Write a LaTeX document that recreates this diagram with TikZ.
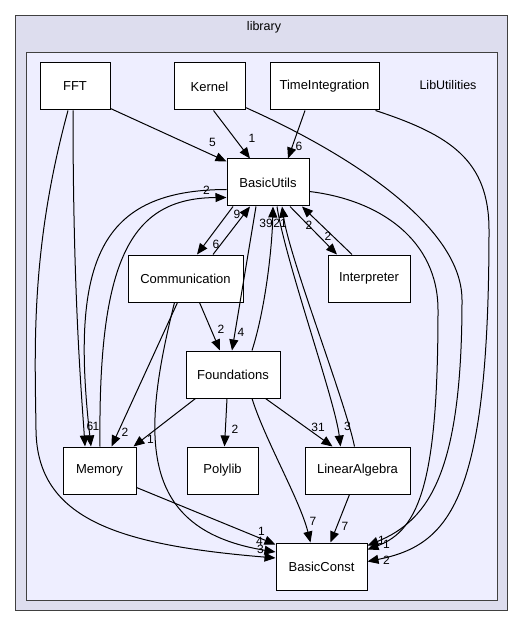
\documentclass[tikz,border=0pt]{standalone}
\usepackage{fontspec}
\setmainfont{Liberation Sans}
\usetikzlibrary{arrows.meta}
\definecolor{clusterbg}{HTML}{DDDDEE}
\definecolor{innerbg}{HTML}{EEEEFF}
\definecolor{framegray}{HTML}{404040}

\begin{document}
\begin{tikzpicture}[x=1pt, y=-1pt,
    dirbox/.style={draw, fill=white, line width=1pt, minimum height=47pt, inner sep=0pt, font=\fontsize{13}{15}\selectfont},
    cluster/.style={fill=#1, draw=framegray, line width=1pt},
    dep/.style={line width=1pt, -{Triangle[length=11pt,width=9pt]}},
    lbl/.style={font=\fontsize{12}{14}\selectfont, inner sep=0pt},
    title/.style={font=\fontsize{12.5}{15}\selectfont, inner sep=0pt}]
    \useasboundingbox (0,0) rectangle (528,628);

    % directory frames
    \filldraw[cluster=clusterbg] (15.5,15.5) rectangle (507,610);
    \node[title] (library) at (264,27) {library};
    \filldraw[cluster=innerbg] (26.5,52.5) rectangle (497,600);
    \node[title] (libutilities) at (448,85) {LibUtilities};

    % directories
    \node[dirbox, minimum width=70pt] (FFT) at (75,86.5) {FFT};
    \node[dirbox, minimum width=71pt] (Kernel) at (209.5,86.5) {Kernel};
    \node[dirbox, minimum width=109pt] (TimeIntegration) at (324.5,86.5) {TimeIntegration};
    \node[dirbox, minimum width=82pt] (BasicUtils) at (268,182.5) {BasicUtils};
    \node[dirbox, minimum width=115pt] (Communication) at (185.5,278.5) {Communication};
    \node[dirbox, minimum width=82pt] (Interpreter) at (369,278.5) {Interpreter};
    \node[dirbox, minimum width=94pt] (Foundations) at (233,374.5) {Foundations};
    \node[dirbox, minimum width=73pt] (Memory) at (99.5,470.5) {Memory};
    \node[dirbox, minimum width=71pt] (Polylib) at (222.5,470.5) {Polylib};
    \node[dirbox, minimum width=105pt] (LinearAlgebra) at (357.5,470.5) {LinearAlgebra};
    \node[dirbox, minimum width=91pt] (BasicConst) at (321.5,566.5) {BasicConst};

    % FFT
    \draw[dep] ([yshift=2]FFT.south east) -- ([yshift=-3]BasicUtils.north west) node[lbl, xshift=-14, yshift=19] {5};
    \draw[dep] ([xshift=-2]FFT.south) .. controls (73,300) and (82,400) .. ([xshift=-14.5]Memory.north) node[lbl, xshift=11, yshift=20] {1};
    \draw[dep] ([xshift=-7]FFT.south) .. controls (30,250) and (35,350) .. (36,430) .. controls (37,520) and (120,545) .. ([yshift=8.5]BasicConst.west) node[lbl, xshift=-15, yshift=9] {3};

    % Kernel and TimeIntegration
    \draw[dep] ([xshift=4]Kernel.south) -- ([xshift=-18]BasicUtils.north) node[lbl, xshift=2, yshift=20] {1};
    \draw[dep] ([yshift=3]Kernel.south east) .. controls (330,145) and (462,220) .. (462,300) .. controls (462,470) and (430,520) .. ([yshift=21]BasicConst.east) node[lbl, xshift=14, yshift=5] {1};
    \draw[dep] ([xshift=-19.5]TimeIntegration.south) -- ([xshift=20]BasicUtils.north) node[lbl, xshift=11, yshift=12.5] {6};
    \draw[dep] ([xshift=-4]TimeIntegration.south east) .. controls (450,135) and (489,160) .. (489,230) .. controls (489,500) and (450,545) .. ([yshift=5]BasicConst.east) node[lbl, xshift=19, yshift=1.5] {2};

    % BasicUtils
    \draw[dep] ([yshift=-7]BasicUtils.west) .. controls (100,190) and (70,260) .. ([xshift=-8.5]Memory.north) node[lbl, xshift=-1, yshift=20] {6};
    \draw[dep] ([xshift=0.5]Memory.north) .. controls (98,260) and (130,198) .. ([yshift=-15]BasicUtils.west) node[lbl, xshift=-20, yshift=7.5] {2};
    \draw[dep] ([xshift=-35]BasicUtils.south) -- ([xshift=11.5]Communication.north) node[lbl, xshift=19, yshift=10] {6};
    \draw[dep] ([xshift=27.5]Communication.north) -- ([xshift=-18]BasicUtils.south) node[lbl, xshift=-13, yshift=-8] {9};
    \draw[dep] ([xshift=-12]BasicUtils.south) -- ([xshift=-1]Foundations.north) node[lbl, xshift=9, yshift=18] {4};
    \draw[dep] ([xshift=19]Foundations.north) .. controls (265,310) and (272,250) .. ([xshift=5]BasicUtils.south) node[lbl, xshift=-7, yshift=-16.5] {39};
    \draw[dep] ([xshift=-3]LinearAlgebra.north) .. controls (345,400) and (290,260) .. ([xshift=14]BasicUtils.south) node[lbl, xshift=-2, yshift=-16.5] {21};
    \draw[dep] ([xshift=9]BasicUtils.south) .. controls (285,260) and (335,400) .. ([xshift=-17]LinearAlgebra.north) node[lbl, xshift=7, yshift=20] {3};
    \draw[dep] ([xshift=22]BasicUtils.south) -- ([xshift=-32]Interpreter.north) node[lbl, xshift=-9, yshift=18] {2};
    \draw[dep] ([xshift=-17]Interpreter.north) -- ([xshift=34]BasicUtils.south) node[lbl, xshift=7, yshift=-18.5] {2};
    \draw[dep] ([yshift=-9]BasicUtils.east) .. controls (380,200) and (438,240) .. (438,310) .. controls (438,480) and (420,530) .. ([yshift=17]BasicConst.east) node[lbl, xshift=19, yshift=5.5] {1};

    % Communication
    \draw[dep] ([xshift=14]Communication.south) -- ([xshift=-13]Foundations.north) node[lbl, xshift=1, yshift=21] {2};
    \draw[dep] ([xshift=-8]Communication.south) -- ([xshift=12]Memory.north) node[lbl, xshift=13.5, yshift=14] {2};
    \draw[dep] ([xshift=-11]Communication.south) .. controls (140,440) and (140,530) .. ([yshift=14.5]BasicConst.west) node[lbl, xshift=-16, yshift=11] {4};

    % Foundations
    \draw[dep] ([xshift=10]Foundations.south west) -- ([xshift=-3]Memory.north east) node[lbl, xshift=17, yshift=7] {1};
    \draw[dep] ([xshift=-6]Foundations.south) -- ([xshift=2]Polylib.north) node[lbl, xshift=10.5, yshift=17] {2};
    \draw[dep] ([xshift=-15]Foundations.south east) -- ([xshift=-25]LinearAlgebra.north) node[lbl, xshift=-14.5, yshift=19] {31};
    \draw[dep] ([xshift=19]Foundations.south) .. controls (265,440) and (300,500) .. ([xshift=-11]BasicConst.north) node[lbl, xshift=2.5, yshift=21] {7};

    % LinearAlgebra and Memory
    \draw[dep] ([xshift=-8]LinearAlgebra.south) -- ([xshift=9]BasicConst.north) node[lbl, xshift=14.5, yshift=16] {7};
    \draw[dep] ([yshift=-17]Memory.east) -- ([yshift=22]BasicConst.west) node[lbl, xshift=-14, yshift=13.5] {1};
\end{tikzpicture}
\end{document}
